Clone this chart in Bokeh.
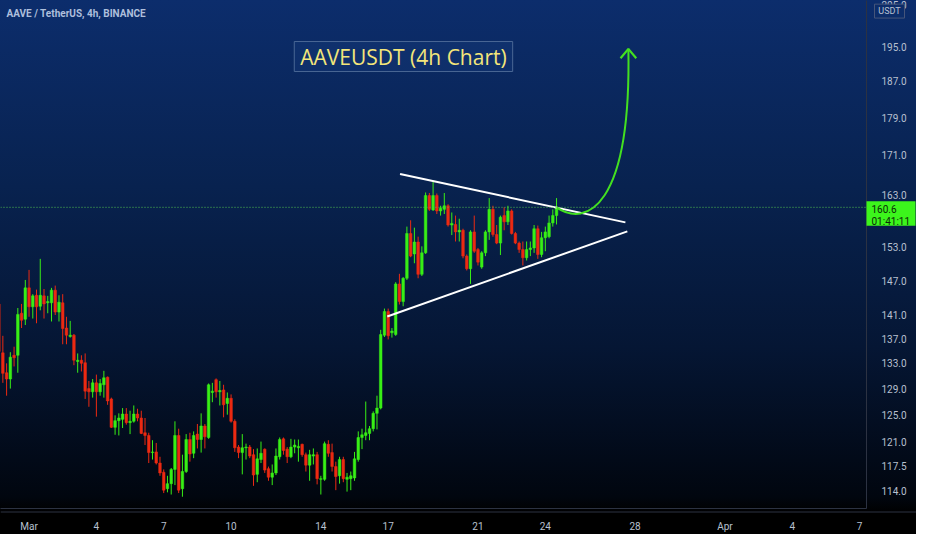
import pandas as pd
from bokeh.plotting import figure
from bokeh.models import (Range1d, FixedTicker, NumeralTickFormatter, Span, Label,
                          ColumnDataSource)
from bokeh.core.properties import value
from bokeh.embed import file_html
from bokeh.resources import INLINE

# ---------------- data ----------------
symbol_text = "AAVE / TetherUS, 4h, BINANCE"
title_text = "AAVEUSDT (4h Chart)"
first_candle = "2022-02-27 16:00"
candle_hours = 4

opens = [142.9, 134.7, 131.5, 130.5, 134.3, 134.3, 141.3, 140.3, 145.7, 142.4,
         144.4, 142.5, 144.3, 143.1, 143.1, 145.3, 141.5, 143.1, 138.8, 137.4,
         137.6, 133.3, 133.5, 133.1, 129.0, 128.5, 129.9, 128.5, 129.6, 130.8,
         127.4, 123.1, 124.1, 124.3, 125.1, 123.8, 124.0, 125.1, 124.5, 122.3,
         121.9, 119.4, 119.5, 117.9, 116.6, 114.3, 115.0, 117.0, 121.9, 114.3,
         116.7, 121.3, 119.3, 122.1, 121.3, 123.3, 121.6, 128.4, 130.4, 128.5,
         128.8, 126.7, 127.5, 124.0, 120.2, 119.4, 120.1, 120.2, 119.1, 116.3,
         118.4, 119.9, 117.1, 115.9, 116.5, 118.8, 121.4, 119.9, 118.8, 120.2,
         120.1, 120.6, 119.1, 117.6, 118.9, 119.1, 115.6, 115.6, 120.6, 119.4,
         117.4, 116.1, 118.4, 115.6, 115.7, 115.8, 118.4, 121.6, 121.9, 122.2,
         122.9, 125.2, 126.0, 137.6, 141.6, 138.0, 137.7, 146.4, 143.3, 147.4,
         155.6, 151.8, 154.0, 148.1, 152.0, 162.9, 160.1, 162.9, 159.9, 160.2,
         160.9, 157.2, 157.3, 155.9, 156.2, 151.4, 149.1, 155.9, 152.6, 149.4,
         152.0, 155.9, 160.2, 155.4, 153.8, 159.0, 157.8, 159.9, 155.6, 153.8,
         152.6, 151.1, 152.6, 152.9, 156.5, 151.7, 154.8, 155.0, 157.6, 159.0]
highs = [143.4, 137.5, 133.0, 134.8, 135.7, 142.2, 142.9, 147.1, 148.9, 144.6,
         145.4, 150.9, 145.5, 144.3, 145.7, 146.1, 144.4, 144.6, 140.7, 140.0,
         137.8, 134.6, 134.3, 134.6, 130.2, 130.5, 131.2, 130.5, 131.8, 130.9,
         127.6, 124.9, 125.2, 126.0, 126.0, 125.6, 126.4, 125.9, 125.6, 124.5,
         122.3, 121.2, 120.8, 118.8, 117.0, 116.1, 117.2, 124.0, 122.9, 119.1,
         122.1, 122.3, 122.5, 123.6, 125.2, 123.6, 129.8, 129.9, 130.6, 130.2,
         129.6, 128.4, 128.1, 124.3, 120.5, 122.1, 120.7, 120.5, 119.9, 120.0,
         121.0, 120.0, 117.4, 117.7, 120.0, 121.6, 121.6, 120.2, 121.4, 121.3,
         121.3, 120.7, 119.4, 119.8, 120.0, 119.5, 116.1, 121.0, 121.2, 120.7,
         118.1, 118.8, 118.8, 116.5, 116.7, 119.5, 122.5, 122.9, 127.0, 123.3,
         125.5, 127.9, 138.5, 142.1, 142.1, 138.8, 146.7, 148.2, 147.6, 156.9,
         158.1, 156.7, 155.0, 153.2, 163.5, 163.4, 165.6, 163.3, 160.9, 163.4,
         161.2, 159.6, 159.0, 158.4, 156.5, 151.7, 156.2, 159.0, 152.9, 152.3,
         156.2, 162.4, 160.9, 157.2, 159.0, 160.6, 160.9, 160.2, 155.9, 154.1,
         154.1, 154.1, 154.1, 157.2, 157.1, 155.9, 156.9, 159.0, 160.2, 162.4]
lows = [134.5, 129.9, 127.9, 129.0, 132.5, 131.5, 138.8, 139.3, 140.7, 140.4,
        139.6, 141.8, 140.4, 141.3, 139.9, 141.0, 139.9, 136.1, 136.1, 137.2,
        132.7, 131.5, 131.7, 127.4, 126.2, 127.6, 124.7, 127.9, 127.6, 126.5,
        123.0, 122.0, 121.9, 123.0, 123.5, 122.1, 123.8, 124.0, 122.1, 120.5,
        117.9, 118.4, 117.7, 116.1, 113.7, 113.8, 113.5, 114.8, 113.7, 113.2,
        116.5, 118.1, 118.6, 120.0, 119.4, 120.0, 121.4, 126.9, 127.6, 126.4,
        124.6, 125.0, 123.8, 119.5, 118.6, 116.3, 118.4, 118.6, 114.7, 115.2,
        117.9, 116.5, 115.4, 114.8, 116.2, 118.4, 119.1, 117.9, 118.6, 119.3,
        118.1, 118.8, 116.7, 115.4, 117.7, 114.9, 113.5, 115.4, 118.8, 116.7,
        114.1, 115.0, 115.2, 113.9, 114.1, 115.4, 118.1, 119.9, 121.2, 121.2,
        122.5, 122.8, 125.8, 137.3, 136.9, 137.2, 137.5, 142.8, 142.5, 147.1,
        151.2, 150.1, 147.4, 147.8, 151.8, 159.9, 159.9, 159.3, 159.0, 159.3,
        156.9, 155.3, 154.1, 154.1, 151.0, 148.8, 146.4, 152.0, 149.7, 149.1,
        151.4, 154.4, 155.0, 153.6, 151.6, 156.2, 157.2, 155.4, 153.6, 152.0,
        149.7, 150.6, 151.4, 152.0, 150.9, 151.2, 152.3, 154.7, 156.9, 157.3]
closes = [134.9, 131.4, 130.5, 134.0, 133.9, 141.1, 140.1, 145.7, 142.4, 144.3,
          142.4, 144.4, 142.9, 143.3, 145.3, 141.5, 143.2, 138.7, 137.6, 137.6,
          133.5, 133.5, 133.0, 128.6, 128.5, 129.9, 128.5, 129.8, 130.7, 127.1,
          123.1, 124.1, 124.5, 125.1, 123.8, 124.0, 125.1, 124.5, 122.2, 121.9,
          119.4, 119.5, 117.9, 116.5, 114.1, 115.0, 117.0, 121.9, 114.1, 116.7,
          121.3, 119.2, 121.9, 121.3, 123.3, 121.7, 129.6, 128.6, 128.5, 128.7,
          126.5, 127.5, 124.0, 120.1, 119.4, 120.1, 120.2, 118.9, 116.2, 118.5,
          119.3, 116.9, 115.9, 116.5, 118.9, 121.3, 119.7, 118.8, 120.2, 120.5,
          120.3, 119.1, 117.6, 119.1, 119.1, 115.7, 115.7, 120.7, 119.3, 117.4,
          116.0, 118.4, 115.7, 115.9, 116.1, 118.5, 121.6, 122.0, 122.3, 122.9,
          125.2, 126.0, 137.7, 141.6, 137.5, 138.3, 146.4, 143.3, 147.4, 155.6,
          151.4, 154.0, 148.1, 152.0, 162.9, 160.2, 162.9, 159.9, 160.4, 160.9,
          157.2, 157.5, 155.9, 156.2, 151.4, 149.1, 155.9, 152.3, 150.3, 152.0,
          155.9, 160.2, 155.4, 153.8, 158.7, 157.8, 159.9, 155.6, 153.8, 152.6,
          151.1, 152.6, 152.9, 156.5, 151.7, 154.8, 155.9, 157.6, 159.0, 160.6]

last_price = 160.6
countdown = "01:41:11"
currency = "USDT"

price_ticks = [114.0, 117.5, 121.0, 125.0, 129.0, 133.0, 137.0, 141.0, 147.0,
               153.0, 163.0, 171.0, 179.0, 187.0, 195.0, 205.0]
date_ticks = ["2022-03-01", "2022-03-04", "2022-03-07", "2022-03-10", "2022-03-14",
              "2022-03-17", "2022-03-21", "2022-03-24", "2022-03-28", "2022-04-01",
              "2022-04-04", "2022-04-07"]
date_tick_labels = ["Mar", "4", "7", "10", "14", "17", "21", "24", "28", "Apr", "4", "7"]

view_start, view_end = "2022-02-27 17:29", "2022-04-07 07:24"
price_low, price_high = 111.6, 206.2

# drawings (time, price)
upper_trend_t = ["2022-03-17 12:40", "2022-03-27 13:36"]
upper_trend_p = [167.2, 157.7]
lower_trend_t = ["2022-03-16 23:00", "2022-03-27 15:43"]
lower_trend_p = [140.75, 156.0]
curve_t = ["2022-03-24 12:00", "2022-03-25 19:30", "2022-03-27 19:55", "2022-03-27 16:48"]
curve_p = [160.6, 156.7, 160.5, 194.5]
head_t = ["2022-03-27 08:24", "2022-03-27 16:48", "2022-03-28 01:12"]
head_p = [192.3, 194.5, 192.3]
title_t, title_p = "2022-03-17 16:20", 192.7

# price-scale badges (price extents)
badge_top, badge_bottom, countdown_p = 162.1, 157.4, 158.2
unit_top, unit_bottom, unit_mid = 205.3, 201.9, 203.6


def ms(s):
    return pd.Timestamp(s).value // 10**6


# ---------------- layout constants ----------------
W, H = 916, 534
AXIS_W, AXIS_H = 50, 22
UP, DOWN = "#38ef16", "#ec2a12"
AXIS_TXT = "#b8c0d0"
SEP = "#2c3242"

times = pd.date_range(first_candle, periods=len(opens), freq=f"{candle_hours}h")
colors = [UP if c >= o else DOWN for o, c in zip(opens, closes)]
src = ColumnDataSource(dict(
    t=times, o=opens, h=highs, l=lows, c=closes,
    top=[max(o, c) for o, c in zip(opens, closes)],
    bot=[min(o, c) for o, c in zip(opens, closes)],
    color=colors))

yr = Range1d(price_low, price_high)
p = figure(width=W, height=H, output_backend="svg", toolbar_location=None,
           x_axis_type="datetime", y_axis_type="log", y_axis_location="right",
           x_range=Range1d(ms(view_start), ms(view_end)), y_range=yr,
           min_border_left=0, min_border_top=0, min_border_right=AXIS_W,
           min_border_bottom=AXIS_H)

p.background_fill_alpha = 0
p.border_fill_alpha = 0
p.outline_line_color = None
p.styles = {"background-image": "linear-gradient(to bottom, #0c2d6c 0%, #08224f 35%, "
                                 "#051634 65%, #01060f 93%, #000000 96%, #000000 100%)"}
p.xgrid.visible = False
p.ygrid.visible = False

for ax in (p.xaxis[0], p.yaxis[0]):
    ax.axis_line_color = SEP
    ax.major_tick_line_color = None
    ax.minor_tick_line_color = None
    ax.major_label_text_color = AXIS_TXT
    ax.major_label_text_font = "Roboto"
    ax.major_label_text_font_size = "10px"
p.yaxis.ticker = FixedTicker(ticks=price_ticks)
p.yaxis.formatter = NumeralTickFormatter(format="0.0")
p.yaxis.major_label_standoff = 9
p.xaxis.ticker = FixedTicker(ticks=[ms(d) for d in date_ticks])
p.xaxis.major_label_overrides = {ms(d): lab for d, lab in zip(date_ticks, date_tick_labels)}
p.xaxis.major_label_standoff = 6

# candles
p.segment(x0="t", y0="h", x1="t", y1="l", color="color", line_width=1, source=src)
p.vbar(x="t", top="top", bottom="bot", width=candle_hours * 3600 * 1000 * 0.7,
       fill_color="color", line_color="color", line_width=0.5, source=src)

# last price line
p.add_layout(Span(location=last_price, dimension="width", line_color="#52c452",
                  line_dash="1 2", line_width=1))

# triangle
p.line(x=[ms(t) for t in upper_trend_t], y=upper_trend_p, line_color="white", line_width=2)
p.line(x=[ms(t) for t in lower_trend_t], y=lower_trend_p, line_color="white", line_width=2)

# projected move
ct = [ms(t) for t in curve_t]
p.bezier(x0=[ct[0]], y0=[curve_p[0]], cx0=[ct[1]], cy0=[curve_p[1]],
         cx1=[ct[2]], cy1=[curve_p[2]], x1=[ct[3]], y1=[curve_p[3]],
         line_color="#43e020", line_width=2)
p.line(x=[ms(t) for t in head_t], y=head_p, line_color="#43e020", line_width=2.2)

# texts
p.add_layout(Label(x=ms(view_start), y=price_high, x_offset=6, y_offset=-7,
                   text=symbol_text, text_baseline="top", text_align="left",
                   text_font="Roboto", text_font_size="10px", text_font_style="bold",
                   text_color="#aebfdc"))
p.add_layout(Label(x=ms(title_t), y=title_p, text=title_text,
                   text_align="center", text_baseline="middle",
                   text_font="Open Sans", text_font_size="21px", text_color="#f3e67a",
                   background_fill_color="#1a3f80", background_fill_alpha=0.3,
                   border_line_color="#4a6795", border_line_width=1, padding=(6, 1)))

# ---------------- overlay (same page, stacked over the chart) for price-scale badges ----------------
ov = figure(width=W, height=H, output_backend="svg", toolbar_location=None,
            x_range=Range1d(0, W), y_range=yr, y_axis_type="log",
            x_axis_location=None, y_axis_location=None,
            min_border_left=0, min_border_right=0, min_border_top=0,
            min_border_bottom=AXIS_H)
ov.background_fill_alpha = 0
ov.border_fill_alpha = 0
ov.outline_line_color = None
ov.xgrid.visible = False
ov.ygrid.visible = False
ov.styles = {"margin-top": f"-{H}px"}

# separator under the chart continues under the price scale
ov.add_layout(Span(location=price_low, dimension="width", line_color=SEP, line_width=2))

ax_x = W - AXIS_W
ov.quad(left=[ax_x], right=[ax_x + 49], top=[badge_top], bottom=[badge_bottom],
        fill_color="#3cf51c", line_color=None)
ov.text(x=[ax_x + 5, ax_x + 5], y=[last_price, countdown_p],
        text=[f"{last_price:.1f}", countdown], text_baseline="middle", text_align="left",
        text_font=value("Roboto"), text_font_size="10px", text_color="#0b2a08")
ov.quad(left=[ax_x + 8], right=[ax_x + 38], top=[unit_top], bottom=[unit_bottom],
        fill_color="#0c2d6a", line_color="#45557a", line_width=1)
ov.text(x=[ax_x + 23], y=[unit_mid], text=[currency], text_baseline="middle",
        text_align="center", text_font=value("Roboto"), text_font_size="9px",
        text_color=AXIS_TXT)

open("out.html", "w").write(file_html([p, ov], INLINE))
